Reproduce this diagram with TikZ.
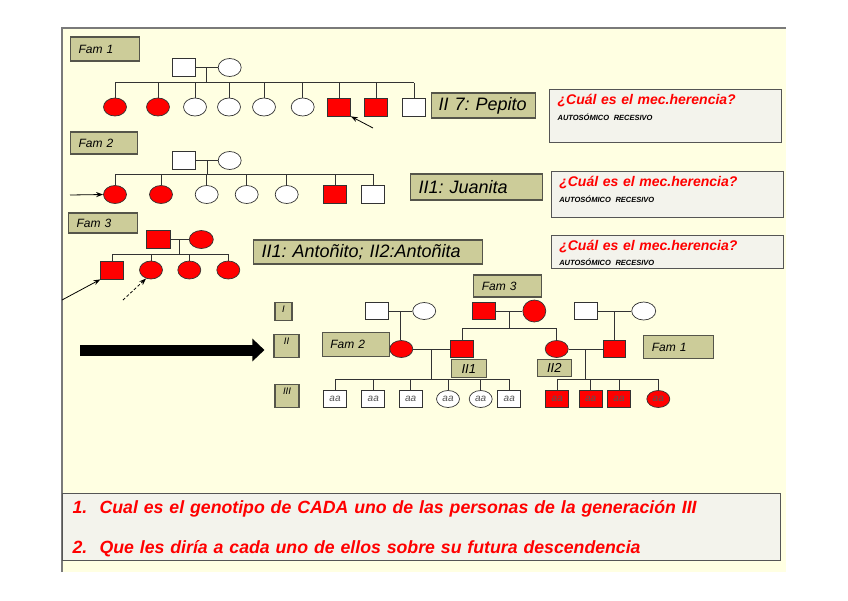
\documentclass[tikz,border=0pt]{standalone}
\usepackage{fontspec}
\setmainfont{Liberation Sans}
\usetikzlibrary{arrows.meta,calc,shapes.geometric}
\frenchspacing
\definecolor{slide}{HTML}{FFFFE2}
\definecolor{frameline}{HTML}{7A7A7A}
\definecolor{edge}{HTML}{333333}
\definecolor{tagfill}{HTML}{CCCC99}
\definecolor{tagline}{HTML}{55554A}
\definecolor{questfill}{HTML}{F3F3EC}
\definecolor{questline}{HTML}{555555}
\definecolor{sickred}{HTML}{FF0000}
\definecolor{genotext}{HTML}{555555}
\newcommand{\famfont}{\fontsize{12}{14}\selectfont\itshape}
\newcommand{\namefont}{\fontsize{18}{21}\selectfont\itshape}
\newcommand{\qhead}{\bfseries\itshape\color{sickred}}
\newcommand{\qsub}{\fontsize{7.5}{9}\selectfont\bfseries\itshape\color{black}}
\newcommand{\genofont}{\fontsize{10}{11}\selectfont\itshape\color{genotext}}
\newcommand{\askfont}{\fontsize{17.7}{22}\selectfont\bfseries\itshape\color{sickred}}
\tikzset{
 male/.style={draw=edge,fill=white,line width=.7pt,minimum width=23pt,minimum height=18pt,inner sep=0pt,font=\genofont},
 female/.style={male,ellipse},
 sick/.style={fill=sickred},
 kin/.style={draw=edge,line width=.8pt},
 tag/.style={draw=tagline,fill=tagfill,line width=1.1pt,anchor=west,inner xsep=8pt,inner ysep=0pt,align=left,font=\famfont},
 namebox/.style={tag,font=\namefont},
 gen/.style={draw=tagline,fill=tagfill,line width=1.1pt,anchor=north,inner xsep=0pt,inner ysep=2pt,font=\fontsize{9.5}{10}\selectfont\itshape,text height=7.5pt},
 quest/.style={draw=questline,fill=questfill,line width=1.2pt,anchor=north west,inner xsep=8pt,inner ysep=3pt,align=left,text width=216pt,text height=12pt,font=\fontsize{14}{16}\selectfont},
 pointer/.style={-{Stealth[length=7pt,width=5pt]},draw=black,line width=.8pt},
 bigarrow/.style={-{Triangle[length=12pt,width=22pt]},draw=black,line width=11pt},
}

\begin{document}
\begin{tikzpicture}[x=1pt,y=-1pt]
\useasboundingbox (0,0) rectangle (848,600);
\fill[slide] (62,28) rectangle (786,572);
\draw[frameline,line width=1.5pt] (62,572) -- (62,28) -- (786,28);

% family 1
\node[tag,text width=53pt,minimum height=24pt] (famA) at (70,49) {Fam 1};
\node[male] (f1fa) at (184,67.5) {};
\node[female] (f1mo) at (229.7,67.5) {};
\node[female,sick] (f1c1) at (115,107) {};
\node[female,sick] (f1c2) at (158,107) {};
\node[female] (f1c3) at (195,107) {};
\node[female] (f1c4) at (229,107) {};
\node[female] (f1c5) at (264,107) {};
\node[female] (f1c6) at (302.7,107) {};
\node[male,sick] (f1c7) at (339,107) {};
\node[male,sick] (f1c8) at (376,107) {};
\node[male] (f1c9) at (414,107) {};
\coordinate (f1sib) at (0,82.7);
\coordinate (f1mid) at ($(f1fa.east)!.5!(f1mo.west)$);
\draw[kin] (f1fa) -- (f1mo);
\draw[kin] (f1mid) -- (f1mid |- f1sib);
\draw[kin] (f1c1.north |- f1sib) -- (f1c9.north |- f1sib);
\foreach \k in {1,...,9} \draw[kin] (f1c\k.north) -- (f1c\k.north |- f1sib);
\coordinate (pepitotail) at (373,128);
\draw[pointer] (pepitotail) -- (f1c7.south east);
\node[namebox,inner xsep=7pt,text width=90pt,minimum height=25pt] (pepito) at (431,105.5) {II 7: Pepito};
\node[quest,text depth=35pt] (askA) at (549,89) {\qhead ¿Cuál es el mec.herencia?\\ \qsub AUTOSÓMICO RECESIVO};

% family 2
\node[tag,text width=51pt,minimum height=22pt] (famB) at (70,143) {Fam 2};
\node[male] (f2fa) at (184.2,160.5) {};
\node[female] (f2mo) at (229.7,160.5) {};
\node[female,sick] (f2c1) at (115,194.5) {};
\node[female,sick] (f2c2) at (161,194.5) {};
\node[female] (f2c3) at (206.7,194.5) {};
\node[female] (f2c4) at (246.7,194.5) {};
\node[female] (f2c5) at (286.7,194.5) {};
\node[male,sick] (f2c6) at (335,194.5) {};
\node[male] (f2c7) at (373,194.5) {};
\coordinate (f2sib) at (0,174);
\coordinate (f2mid) at ($(f2fa.east)!.5!(f2mo.west)$);
\draw[kin] (f2fa) -- (f2mo);
\draw[kin] (f2mid) -- (f2mid |- f2sib);
\draw[kin] (f2c1.north |- f2sib) -- (f2c7.north |- f2sib);
\foreach \k in {1,...,7} \draw[kin] (f2c\k.north) -- (f2c\k.north |- f2sib);
\coordinate (juanitatail) at (70,195);
\draw[pointer] (juanitatail) -- (f2c1.west);
\node[namebox,text width=116pt,minimum height=26pt] (juanita) at (410,187) {II1: Juanita};
\node[quest,text width=216pt,text depth=28pt] (askB) at (550.7,171) {\qhead ¿Cuál es el mec.herencia?\\ \qsub AUTOSÓMICO RECESIVO};

% family 3
\node[tag,text width=53pt,minimum height=20pt] (famC) at (68,223) {Fam 3};
\node[male,sick,minimum width=24pt] (f3fa) at (158,239.5) {};
\node[female,sick,minimum width=24pt] (f3mo) at (201.3,239.5) {};
\node[male,sick] (f3c1) at (112.3,270) {};
\node[female,sick] (f3c2) at (151,270) {};
\node[female,sick] (f3c3) at (189.3,270) {};
\node[female,sick] (f3c4) at (228.3,270) {};
\coordinate (f3sib) at (0,254.3);
\coordinate (f3mid) at ($(f3fa.east)!.5!(f3mo.west)$);
\draw[kin] (f3fa) -- (f3mo);
\draw[kin] (f3mid) -- (f3mid |- f3sib);
\draw[kin] (f3c1.north |- f3sib) -- (f3c4.north |- f3sib);
\foreach \k in {1,...,4} \draw[kin] (f3c\k.north) -- (f3c\k.north |- f3sib);
\coordinate (antonitotail) at (62,300);
\coordinate (antonitatail) at (123,300);
\draw[pointer] (antonitotail) -- (f3c1.south west);
\draw[pointer,densely dashed] (antonitatail) -- (f3c2.240);
\node[namebox,text width=213pt,minimum height=24pt] (antonitos) at (253,252) {II1: Antoñito; II2:Antoñita};
\node[quest,text width=216pt,text depth=15pt] (askC) at (550.7,235) {\qhead ¿Cuál es el mec.herencia?\\[-1pt] \qsub AUTOSÓMICO RECESIVO};

% joined pedigree
\node[gen,minimum width=17pt,text depth=6.5pt] (genI) at (283.5,302) {I};
\node[gen,minimum width=25pt,text depth=11.5pt] (genII) at (286.5,334) {II};
\node[gen,minimum width=24pt,text depth=11.5pt] (genIII) at (287,384) {III};
\coordinate (bigtail) at (80,350);
\draw[bigarrow,shorten >=9pt] (bigtail) -- (bigtail -| genII.west);

\node[tag,text width=51pt,minimum height=24pt] (famBb) at (321.7,344.7) {Fam 2};
\node[tag,text width=52pt,minimum height=22pt] (famCb) at (473.3,286) {Fam 3};
\node[tag,text width=54pt,minimum height=23pt] (famAb) at (643.3,347.3) {Fam 1};

\node[male,minimum height=17pt] (p2fa) at (377.3,311) {};
\node[female,minimum height=17pt] (p2mo) at (424.2,311) {};
\node[male,sick,minimum height=17pt] (p3fa) at (484.2,311) {};
\node[female,sick,minimum height=22pt] (p3mo) at (534.3,311) {};
\node[male,minimum height=17pt] (p1fa) at (585.8,311) {};
\node[female,minimum width=24pt] (p1mo) at (643.7,311) {};

\node[female,sick,minimum height=17pt] (IIa) at (401.3,349) {};
\node[male,sick,minimum height=17pt] (IIb) at (462,349) {};
\node[female,sick,minimum height=17pt] (IIc) at (556.7,349) {};
\node[male,sick,minimum width=22pt,minimum height=17pt] (IId) at (614.5,349) {};

\coordinate (p2mid) at ($(p2fa.east)!.5!(p2mo.west)$);
\coordinate (p3mid) at ($(p3fa.east)!.5!(p3mo.west)$);
\coordinate (p1mid) at ($(p1fa.east)!.5!(p1mo.west)$);
\coordinate (p3sib) at (0,328.3);
\draw[kin] (p2fa) -- (p2mo);
\draw[kin] (p3fa) -- (p3mo);
\draw[kin] (p1fa) -- (p1mo);
\draw[kin] (p2mid) -- (p2mid |- IIa.north);
\draw[kin] (p3mid) -- (p3mid |- p3sib);
\draw[kin] (IIb.north |- p3sib) -- (IIc.north |- p3sib);
\draw[kin] (IIb.north) -- (IIb.north |- p3sib);
\draw[kin] (IIc.north) -- (IIc.north |- p3sib);
\draw[kin] (p1mid) -- (p1mid |- IId.north);

% generation III
\node[male,minimum height=17pt] (t1) at (335,399) {aa};
\node[male,minimum height=17pt] (t2) at (373.3,399) {aa};
\node[male,minimum height=17pt] (t3) at (410.7,399) {aa};
\node[female,minimum height=17pt] (t4) at (448,399) {aa};
\node[female,minimum height=17pt] (t5) at (480.7,399) {aa};
\node[male,minimum height=17pt] (t6) at (509.3,399) {aa};
\node[male,sick,minimum height=17pt] (u1) at (557.3,399) {aa};
\node[male,sick,minimum height=17pt] (u2) at (590.7,399) {aa};
\node[male,sick,minimum height=17pt] (u3) at (619,399) {aa};
\node[female,sick,minimum height=17pt] (u4) at (658.3,399) {aa};

\coordinate (g3sib) at (0,379.3);
\coordinate (abmid) at ($(IIa.east)!.5!(IIb.west)$);
\coordinate (cdmid) at ($(IIc.east)!.5!(IId.west)$);
\draw[kin] (IIa) -- (IIb);
\draw[kin] (IIc) -- (IId);
\draw[kin] (abmid) -- (abmid |- g3sib);
\draw[kin] (cdmid) -- (cdmid |- g3sib);
\draw[kin] (t1.north |- g3sib) -- (t6.north |- g3sib);
\draw[kin] (u1.north |- g3sib) -- (u4.north |- g3sib);
\foreach \k in {1,...,6} \draw[kin] (t\k.north) -- (t\k.north |- g3sib);
\foreach \k in {1,...,4} \draw[kin] (u\k.north) -- (u\k.north |- g3sib);

\node[tag,align=center,text width=19pt,minimum height=18pt,font=\fontsize{13}{14}\selectfont\itshape] (labII1) at (450.7,368.8) {II1};
\node[tag,align=center,text width=18pt,minimum height=17pt,font=\fontsize{13}{14}\selectfont\itshape] (labII2) at (536.7,368) {II2};

% questions
\node[quest,text width=698pt,inner xsep=10pt,text height=16.5pt,text depth=44.5pt,font=\askfont] (tasks) at (62,493) {\makebox[27pt][l]{1.}Cual es el genotipo de CADA uno de las personas de la generación III\\[18pt]\makebox[27pt][l]{2.}Que les diría a cada uno de ellos sobre su futura descendencia};

\end{tikzpicture}
\end{document}
